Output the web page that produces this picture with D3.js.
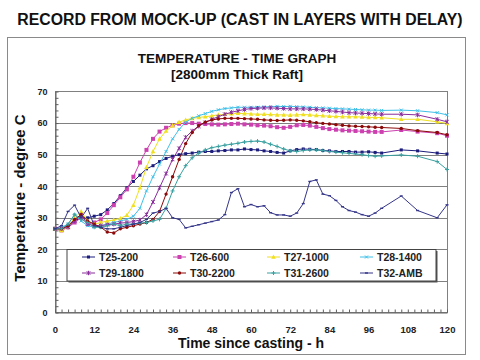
<!DOCTYPE html>
<html><head><meta charset="utf-8">
<script src="https://cdn.jsdelivr.net/npm/d3@7"></script>
<style>
html,body{margin:0;padding:0;background:#fff;}
svg{display:block;font-family:Arial,"Liberation Sans",sans-serif;}
</style></head>
<body><svg id="c" width="480" height="360"></svg>
<script>
const hours = [0,2,4,6,8,10,12,14,16,18,20,22,24,26,28,30,32,34,36,38,40,42,44,46,48,50,52,54,56,58,60,62,64,66,68,70,72,74,76,78,80,82,84,86,88,90,92,94,96,98,100,106,111,117,120];
const T25 = [26.5,26.5,27.5,29,30,30,30.5,31,32.5,34.5,37,39.5,41.5,43.5,45.5,46.5,47.8,48.8,49.5,50,50.3,50.5,50.8,51,51,51.2,51.3,51.5,51.5,51.8,51.6,51.5,51.2,51,50.7,50.5,51.2,51.6,51.8,51.7,51.6,51.3,51.2,51,51,51,50.8,50.8,50.9,50.7,50.5,51.5,51.2,50.5,50.2];
const T26 = [26.5,26,27,28.5,30,28,28.5,29.5,31.5,34,36.5,39,43,47.5,51.5,55,57.3,58.5,59.3,59.8,60,60,59.8,59.7,59.6,59.5,59.6,59.7,59.8,59.6,59.5,59.3,59.2,59,58.7,58.5,58.8,59.3,59.4,59.2,58.8,58.4,58.1,57.9,57.7,57.6,57.5,57.4,57.3,57.2,57.2,57.8,57.3,56.8,56];
const T27 = [26.5,26,27,30,32,29,28,28.5,29,29.3,29.8,30.8,34,39.5,46,51,55,57.5,59.2,60.3,61,61.5,61.8,62,62.3,62.6,62.8,63,63.1,63,62.9,62.8,62.8,62.7,62.6,62.6,62.5,62.6,62.7,62.6,62.4,62.3,62.2,62.1,62,62,62,61.9,61.8,61.8,61.7,61.2,61.2,60.4,59.9];
const T28 = [26.5,27,28,31,29,27.5,27,27.5,28,28.5,29,29.5,30.5,33,38.5,43,47,51,55,58,60.3,61.5,62.3,63,63.7,64.2,64.6,64.8,65,65,65,65,65.1,65.2,65.3,65.2,65.3,65.2,65.1,65,64.9,64.8,64.7,64.6,64.5,64.4,64.3,64.2,64.1,64.1,64,64.1,63.9,63.3,62.6];
const T29 = [26.5,26.5,27,29,31,28,27.5,27.5,27.8,28,28.3,28.5,28.8,29.3,31,35,39.5,44,48.5,52,55.5,57.5,59,60.2,61.2,62,62.8,63.4,63.9,64.3,64.6,64.7,64.8,64.8,64.7,64.6,64.5,64.5,64.5,64.4,64.3,64.1,63.9,63.7,63.5,63.3,63.2,63.1,63,62.9,62.8,62.8,62.6,61.2,60.4];
const T30 = [26.5,26.5,27.5,29.5,31,29,28,27,25.5,25.2,26.5,27,27.5,28,28.5,29.5,32,37.5,43,48.5,53.5,57,59.2,60.3,61,61.3,61.5,61.5,61.5,61.4,61.3,61.2,61,60.9,60.8,60.9,61,60.9,60.7,60.4,60.1,59.9,59.7,59.5,59.3,59.1,59,58.9,58.8,58.7,58.6,58.3,57.6,57,56.3];
const T31 = [26.5,26.5,28,31,29.5,28.5,27,27,27.5,28,27.5,28,28,28.3,28.5,29,29.5,33,38.5,43,46.5,49,50.5,51.5,52.2,52.6,53,53.3,53.6,54,54.2,54.3,54,53.3,52.6,51.8,51.2,51,51.3,51.5,51.5,51.3,51,50.8,50.6,50.4,50.2,50,49.7,49.5,49.6,49.9,49.5,47.8,45.3];
const T32 = [26.5,27.5,32,34,30,33,27.5,27,26.5,26.5,27,27.5,28,28.5,29.5,31.5,32,33,30,29.5,26.8,27.3,27.8,28.3,28.8,29.3,31,38,39.2,33.5,34.2,33.5,33.8,31.6,30.9,30.9,30.5,31.5,34.5,41.5,42,37.5,37,35.5,33.5,32.3,31.8,31,30.5,31.5,33,36.9,32.3,30,34.1];
const seriesNames = ["T25-200","T26-600","T27-1000","T28-1400","T29-1800","T30-2200","T31-2600","T32-AMB"];
const seriesValues = [T25,T26,T27,T28,T29,T30,T31,T32];
const xTicks = [0,12,24,36,48,60,72,84,96,108,120];
const yTicks = [0,10,20,30,40,50,60,70];

const colors = ["#1c1c7c","#cc40b0","#f0e020","#40c0e8","#8a2c9c","#8c0a0a","#3aa0a0","#35358a"];
const markers = ["square","bigsquare","triangle","x","star","circle","plus","dash"];

const svg = d3.select("#c");
svg.append("rect").attr("x",0).attr("y",0).attr("width",480).attr("height",360).attr("fill","#fff");

// main title
svg.append("text").attr("x",240).attr("y",25).attr("text-anchor","middle")
  .attr("font-size",15.8).attr("font-weight","bold").attr("fill","#111")
  .text("RECORD FROM MOCK-UP (CAST IN LAYERS WITH DELAY)");

// outer chart box
svg.append("rect").attr("x",7.5).attr("y",37.5).attr("width",458).attr("height",317)
  .attr("fill","#fff").attr("stroke","#8a8a8a").attr("stroke-width",1);

svg.append("text").attr("x",237).attr("y",63).attr("text-anchor","middle")
  .attr("font-size",13.5).attr("font-weight","bold").attr("fill","#111")
  .text("TEMPERATURE - TIME GRAPH");
svg.append("text").attr("x",237).attr("y",79).attr("text-anchor","middle")
  .attr("font-size",13.5).attr("font-weight","bold").attr("fill","#111")
  .text("[2800mm Thick Raft]");

const L = 55, R = 447, T = 91.5, B = 312.5;
const x = d3.scaleLinear().domain([0,120]).range([L,R]);
const y = d3.scaleLinear().domain([0,70]).range([B,T]);

// gridlines
const g = svg.append("g");
g.selectAll("line.grid").data(yTicks.filter(v=>v>0 && v<70)).join("line")
  .attr("x1",L).attr("x2",R).attr("y1",d=>Math.round(y(d))+0.5).attr("y2",d=>Math.round(y(d))+0.5)
  .attr("stroke","#808080").attr("stroke-width",1);
// plot border
svg.append("rect").attr("x",L+0.5).attr("y",T).attr("width",R-L).attr("height",B-T)
  .attr("fill","none").attr("stroke","#808080").attr("stroke-width",1);

// axes
const yAxis = d3.axisLeft(y).tickValues(yTicks).tickSize(0).tickPadding(8).tickFormat(d3.format("d"));
const yA = svg.append("g").attr("transform",`translate(${L+0.5},0)`).call(yAxis);
yA.select(".domain").attr("stroke","#606060");
yA.selectAll("text").attr("font-size",9).attr("font-weight","bold").attr("fill","#222").attr("font-family","Arial, 'Liberation Sans', sans-serif");
const yMinor = d3.axisRight(y).tickValues(d3.range(0,71,2)).tickSize(3).tickFormat("");
const yM = svg.append("g").attr("transform",`translate(${L+0.5},0)`).call(yMinor);
yM.select(".domain").remove();
yM.selectAll("line").attr("stroke","#606060");

const xAxis = d3.axisBottom(x).tickValues(xTicks).tickSize(0).tickPadding(14).tickFormat(d3.format("d"));
const xA = svg.append("g").attr("transform",`translate(0,${B})`).call(xAxis);
xA.select(".domain").attr("stroke","#606060");
xA.selectAll("text").attr("font-size",9.5).attr("font-weight","bold").attr("fill","#222").attr("font-family","Arial, 'Liberation Sans', sans-serif");
const xMinor = d3.axisTop(x).tickValues(d3.range(0,121,2)).tickSize(3).tickFormat("");
const xM = svg.append("g").attr("transform",`translate(0,${B})`).call(xMinor);
xM.select(".domain").remove();
xM.selectAll("line").attr("stroke","#606060");

// axis titles
svg.append("text").attr("x",251).attr("y",347.5).attr("text-anchor","middle")
  .attr("font-size",14).attr("font-weight","bold").attr("fill","#111")
  .text("Time since casting - h");
svg.append("text").attr("transform","translate(25,198) rotate(-90)").attr("text-anchor","middle")
  .attr("font-size",15).attr("font-weight","bold").attr("fill","#111")
  .text("Temperature - degree C");

// marker drawing
function drawMarker(sel, type, color){
  switch(type){
    case "square": sel.append("rect").attr("x",-1.5).attr("y",-1.5).attr("width",3).attr("height",3).attr("fill",color); break;
    case "bigsquare": sel.append("rect").attr("x",-2).attr("y",-2).attr("width",4).attr("height",4).attr("fill",color); break;
    case "triangle": sel.append("path").attr("d","M0,-2.5L2.3,1.8L-2.3,1.8Z").attr("fill",color); break;
    case "x": sel.append("path").attr("d","M-1.5,-1.5L1.5,1.5M-1.5,1.5L1.5,-1.5").attr("stroke",color).attr("stroke-width",1); break;
    case "star": sel.append("path").attr("d","M-1.8,-1.8L1.8,1.8M-1.8,1.8L1.8,-1.8M0,-2.2L0,2.2").attr("stroke",color).attr("stroke-width",1); break;
    case "circle": sel.append("circle").attr("r",1.7).attr("fill",color); break;
    case "plus": sel.append("path").attr("d","M-2,0L2,0M0,-2L0,2").attr("stroke",color).attr("stroke-width",1); break;
    case "dash": sel.append("path").attr("d","M-1.5,0L1.5,0").attr("stroke",color).attr("stroke-width",1.4); break;
  }
}

const line = d3.line().x(d=>x(d[0])).y(d=>y(d[1]));
const plot = svg.append("g");
seriesValues.forEach((vals,i)=>{
  const pts = hours.map((h,j)=>[h,vals[j]]);
  const sg = plot.append("g");
  sg.append("path").attr("d",line(pts)).attr("fill","none").attr("stroke",colors[i]).attr("stroke-width",1);
  sg.selectAll("g.m").data(pts).join("g").attr("class","m")
    .attr("transform",d=>`translate(${x(d[0])},${y(d[1])})`)
    .each(function(){ drawMarker(d3.select(this), markers[i], colors[i]); });
});

// legend
const lg = svg.append("g");
const lx = 67, ly = 249.5, lw = 369, lh = 31.5;
lg.append("rect").attr("x",lx+1.5).attr("y",ly+1.5).attr("width",lw).attr("height",lh).attr("fill","#555");
lg.append("rect").attr("x",lx).attr("y",ly).attr("width",lw).attr("height",lh).attr("fill","#fff").attr("stroke","#444").attr("stroke-width",1);
const colX = [82,173,267,360];
const rowY = [257,273];
seriesNames.forEach((n,i)=>{
  const cx = colX[i%4], cy = rowY[Math.floor(i/4)];
  const e = lg.append("g").attr("transform",`translate(${cx},${cy})`);
  e.append("line").attr("x1",0).attr("x2",13).attr("y1",0).attr("y2",0).attr("stroke",colors[i]).attr("stroke-width",1);
  const m = e.append("g").attr("transform","translate(6.5,0)");
  drawMarker(m, markers[i], colors[i]);
  e.append("text").attr("x",17).attr("y",4).attr("font-size",10.5).attr("font-weight","bold").attr("fill","#222").text(n);
});
</script>
</body></html>
